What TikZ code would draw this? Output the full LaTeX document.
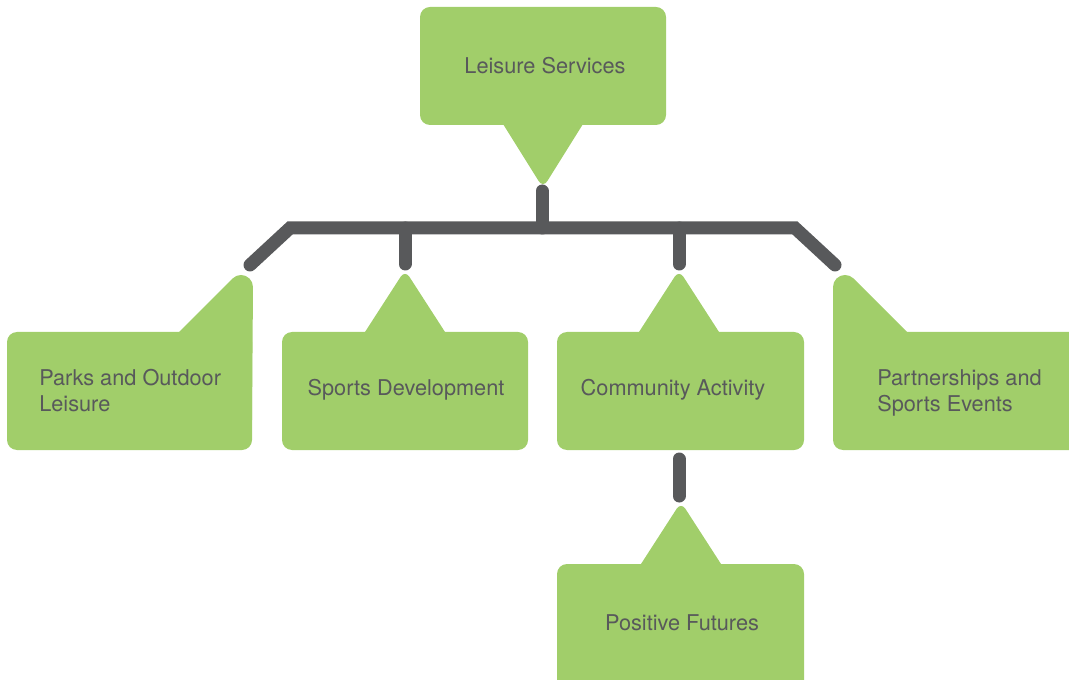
\documentclass[tikz,border=0pt]{standalone}
\usepackage{fontspec}
\setmainfont{TeX Gyre Heros}
\definecolor{boxgreen}{HTML}{A1CE6A}
\definecolor{linegray}{HTML}{58595B}
\definecolor{textgray}{HTML}{58595B}
\begin{document}
\begin{tikzpicture}[x=0.75pt,y=-0.75pt,
  card/.style={fill=boxgreen, rounded corners=7.5pt},
  pointer/.style={fill=boxgreen, rounded corners=6pt},
  tab/.style={fill=boxgreen},
  link/.style={draw=linegray, line width=9.75pt, line cap=round},
  label/.style={text=textgray, inner sep=0pt,
    font=\fontsize{16.3pt}{19.5pt}\selectfont},
  labelleft/.style={label, anchor=west, align=left}]
\useasboundingbox (0,0) rectangle (1069,680);
\clip (0,0) rectangle (1069,680);

% top card with downward pointer
\fill[card] (420,7) rectangle (666,125);
\fill[pointer] (495.5,112) -- (543,188) -- (590.5,112) -- cycle;

% first row of cards
\fill[card] (7,332) rectangle (252,450);
\fill[tab] (145,366) -- (232.5,278.5) arc[start angle=225, end angle=360, radius=12]
  -- (252,420) -- (145,420) -- cycle;

\fill[card] (282,332) rectangle (528,450);
\fill[pointer] (356.6,345) -- (405,270) -- (453.4,345) -- cycle;

\fill[card] (557,332) rectangle (804,450);
\fill[pointer] (630.6,345) -- (679,270) -- (727.4,345) -- cycle;

\fill[card] (833,332) rectangle (1090,450);
\fill[tab] (941,366) -- (853.5,278.5) arc[start angle=315, end angle=180, radius=12]
  -- (833,420) -- (941,420) -- cycle;

% bottom card
\fill[card] (557,564) rectangle (804,700);
\fill[pointer] (632.6,577) -- (681,502) -- (729.4,577) -- cycle;

% connector points
\coordinate (root) at (542,191);
\coordinate (hub) at (542,228);
\coordinate (barL) at (290,228);
\coordinate (barR) at (795,228);
\coordinate (parks) at (250,265);
\coordinate (partner) at (835,265);
\coordinate (sportsTop) at (405,228);
\coordinate (sports) at (405,264);
\coordinate (commTop) at (679,228);
\coordinate (comm) at (679,264);
\coordinate (commBottom) at (679,459);
\coordinate (futures) at (679,496);

\draw[link] (root) -- (hub);
\draw[link] (parks) -- (barL) -- (barR) -- (partner);
\draw[link] (sportsTop) -- (sports);
\draw[link] (commTop) -- (comm);
\draw[link] (commBottom) -- (futures);

% labels
\node[label] (leisure) at (545,66) {Leisure Services};
\node[labelleft] (parksText) at (39,391) {Parks and Outdoor\\Leisure};
\node[label] (sportsText) at (406,390) {Sports Development};
\node[label] (commText) at (673,390) {Community Activity};
\node[labelleft] (partnerText) at (877,393) {Partnerships and\\Sports Events};
\node[label] (futuresText) at (682,623) {Positive Futures};
\end{tikzpicture}
\end{document}
